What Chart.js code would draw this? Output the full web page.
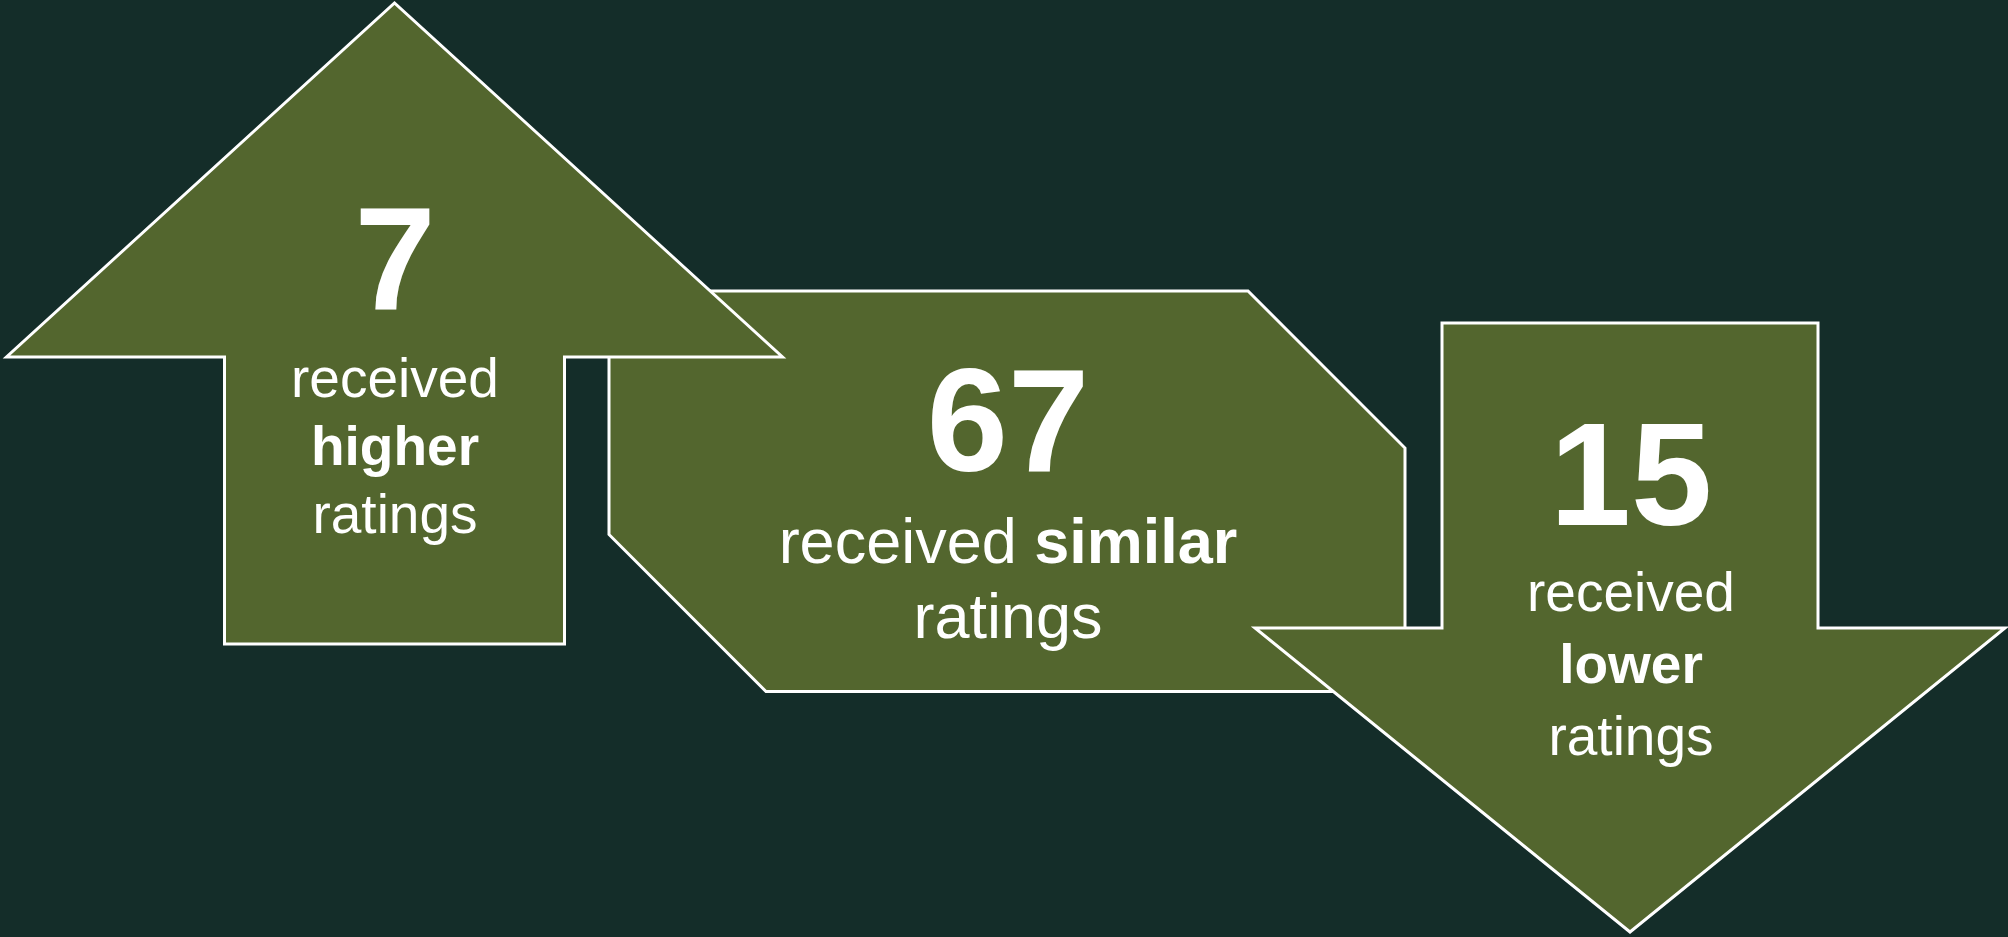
<!DOCTYPE html>
<html>
<head>
<meta charset="utf-8">
<script src="https://cdn.jsdelivr.net/npm/chart.js@4.4.0/dist/chart.umd.min.js"></script>
<style>
  html, body { margin: 0; padding: 0; background: #142d29; overflow: hidden; }
  #wrap { width: 2008px; height: 937px; }
</style>
</head>
<body>
<div id="wrap"><canvas id="myChart" width="2008" height="937"></canvas></div>
<script>
// data
const categories = ['higher', 'similar', 'lower'];
const counts = [7, 67, 15];
const lead = 'received';
const tail = 'ratings';

const GREEN = '#53662e';
const FONT = '"Liberation Sans", Arial, Helvetica, sans-serif';

// shape layout in canvas units (x 0..2008, y 0..937)
const upArrow = { cx: 394.5, tip: 3, wing: 357, half: 388, stem: 170, end: 644 };
const midBox = { left: 609, top: 291, right: 1405, bottom: 691.5, cut: 157 };
const downArrow = { cx: 1630, tip: 932, wing: 628, half: 375, stem: 188, end: 323 };

// text layout per panel
const panels = [
  { cx: 395, numBase: 309, firstBase: 397, gap: 68, size: 55, oneLine: false },
  { cx: 1008, numBase: 471, firstBase: 563, gap: 75, size: 63, oneLine: true },
  { cx: 1631, numBase: 525, firstBase: 611, gap: 72, size: 55, oneLine: false }
];

function arrowPoints(a) {
  const p = (x, y) => ({ x: x, y: y });
  return [
    p(a.cx, a.end), p(a.cx + a.stem, a.end), p(a.cx + a.stem, a.wing),
    p(a.cx + a.half, a.wing), p(a.cx, a.tip), p(a.cx - a.half, a.wing),
    p(a.cx - a.stem, a.wing), p(a.cx - a.stem, a.end), p(a.cx, a.end)
  ];
}

function boxPoints(b) {
  const p = (x, y) => ({ x: x, y: y });
  const mid = (b.left + b.right) / 2;
  return [
    p(mid, b.top), p(b.right - b.cut, b.top), p(b.right, b.top + b.cut),
    p(b.right, b.bottom), p(b.left + b.cut, b.bottom), p(b.left, b.bottom - b.cut),
    p(b.left, b.top), p(mid, b.top)
  ];
}

function shapeSet(label, pts, order) {
  return {
    label: label,
    data: pts,
    order: order,
    borderColor: '#ffffff',
    borderWidth: 3,
    borderJoinStyle: 'miter',
    backgroundColor: GREEN,
    fill: 'shape',
    tension: 0,
    pointRadius: 0,
    pointHoverRadius: 0
  };
}

const textPlugin = {
  id: 'panelText',
  afterDatasetsDraw(chart) {
    const ctx = chart.ctx;
    const xs = chart.scales.x, ys = chart.scales.y;
    ctx.save();
    ctx.fillStyle = '#ffffff';
    ctx.textBaseline = 'alphabetic';
    panels.forEach((pn, i) => {
      const cx = xs.getPixelForValue(pn.cx);
      ctx.textAlign = 'center';
      ctx.font = 'bold 146px ' + FONT;
      ctx.fillText(String(counts[i]), cx, ys.getPixelForValue(pn.numBase));

      const normal = pn.size + 'px ' + FONT;
      const bold = 'bold ' + pn.size + 'px ' + FONT;
      let lines;
      if (pn.oneLine) {
        lines = [[[lead + ' ', normal], [categories[i], bold]], [[tail, normal]]];
      } else {
        lines = [[[lead, normal]], [[categories[i], bold]], [[tail, normal]]];
      }
      lines.forEach((segs, k) => {
        const y = ys.getPixelForValue(pn.firstBase + k * pn.gap);
        let total = 0;
        segs.forEach(s => { ctx.font = s[1]; total += ctx.measureText(s[0]).width; });
        let x = cx - total / 2;
        ctx.textAlign = 'left';
        segs.forEach(s => {
          ctx.font = s[1];
          ctx.fillText(s[0], x, y);
          x += ctx.measureText(s[0]).width;
        });
      });
    });
    ctx.restore();
  }
};

const ctx = document.getElementById('myChart');
new Chart(ctx, {
  type: 'line',
  data: {
    datasets: [
      shapeSet(categories[0], arrowPoints(upArrow), 0),
      shapeSet(categories[2], arrowPoints(downArrow), 1),
      shapeSet(categories[1], boxPoints(midBox), 2)
    ]
  },
  options: {
    responsive: false,
    animation: false,
    events: [],
    layout: { padding: 0 },
    scales: {
      x: { type: 'linear', min: 0, max: 2008, display: false },
      y: { type: 'linear', min: 0, max: 937, reverse: true, display: false }
    },
    plugins: {
      legend: { display: false },
      tooltip: { enabled: false },
      filler: { drawTime: 'beforeDatasetDraw' }
    }
  },
  plugins: [textPlugin]
});
</script>
</body>
</html>
